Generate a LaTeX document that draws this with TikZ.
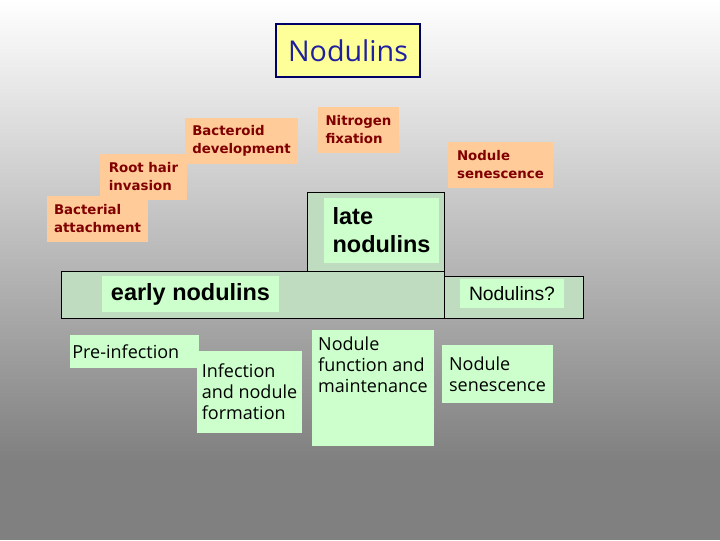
\documentclass[tikz,border=0pt]{standalone}
\usepackage{fontspec}
\setmainfont{DejaVu Sans}
\newfontfamily\arialf{Liberation Sans}
\newfontfamily\comicf{Open Sans}
\usepackage{tikz}
\usetikzlibrary{positioning}
\definecolor{salc}{HTML}{FFCC99}
\definecolor{redt}{HTML}{800000}
\definecolor{pgc}{HTML}{CCFFCC}
\definecolor{bandc}{HTML}{C0DCC0}
\definecolor{ttlc}{HTML}{FFFF99}
\definecolor{navyc}{HTML}{000066}
\definecolor{bluet}{HTML}{1F1F9F}
\definecolor{bgbot}{HTML}{808080}

\begin{document}
\begin{tikzpicture}[x=0.75pt, y=-0.75pt,
    stage/.style={fill=salc, text=redt, inner sep=0pt, align=left,
      minimum height=34.5pt, font=\bfseries\fontsize{10}{13.5}\selectfont},
    phase/.style={fill=pgc, inner sep=0pt, align=left,
      font=\comicf\fontsize{13.5}{15.75}\selectfont},
    tag/.style={fill=pgc, inner sep=0pt, align=left,
      font=\arialf\bfseries\fontsize{17.6}{21}\selectfont},
    band/.style={draw=black, fill=bandc, line width=0.75pt}]
  % background
  \shade[top color=white, bottom color=bgbot] (0,0) rectangle (720,460);
  \fill[bgbot] (0,460) rectangle (720,540);
  \node[draw=navyc, fill=ttlc, line width=1.5pt, text=bluet,
        minimum width=108pt, minimum height=39.75pt, inner sep=0pt,
        font=\comicf\fontsize{21.5}{24}\selectfont] (title) at (348,50.5)
        {Nodulins};
  % stages
  \foreach \n/\cx/\cy/\w/\txt in {
      root/143.5/177/65.25/{Root hair\\invasion},
      attach/97.5/218.5/75.75/{Bacterial\\attachment},
      devel/241.5/140.5/84.75/{Bacteroid\\development},
      nfix/358.5/130/60.75/{Nitrogen\\fixation},
      senes/500.5/165/78.75/{Nodule\\senescence}}{
    \node[stage, minimum width=\w pt] (\n) at (\cx,\cy) {\txt};
  }
  % bands
  \draw[band] (307,192) rectangle (444,271);
  \draw[band] (61,271) rectangle (444,318);
  \draw[band] (444,276) rectangle (583,318);
  \node[tag, minimum width=86.25pt, minimum height=48.75pt] (late)
        at (381.5,230.5) {late\\nodulins};
  \node[tag, minimum width=132.75pt, minimum height=27pt] (early)
        at (190.5,294) {early nodulins};
  \node[fill=pgc, inner sep=0pt, minimum width=78pt, minimum height=21.75pt,
        font=\arialf\fontsize{14.5}{16}\selectfont] (unkn) at (512,293.5)
        {Nodulins?};
  % phases
  \node[phase, inner xsep=1.75pt, text width=93.25pt, minimum height=24.75pt]
        (preinf) at (134.5,351.5) {Pre-infection};
  \node[phase, minimum width=78.75pt, minimum height=61.5pt] (infect)
        at (249.5,392) {Infection\\and nodule\\formation};
  \node[phase, minimum width=91.5pt, inner ysep=5pt, text depth=35pt,
        anchor=north] (funct) at (373,330)
        {Nodule\\function and\\maintenance};
  \node[phase, minimum width=83.25pt, minimum height=43.5pt] (senph)
        at (497.5,374) {Nodule\\senescence};
\end{tikzpicture}
\end{document}
